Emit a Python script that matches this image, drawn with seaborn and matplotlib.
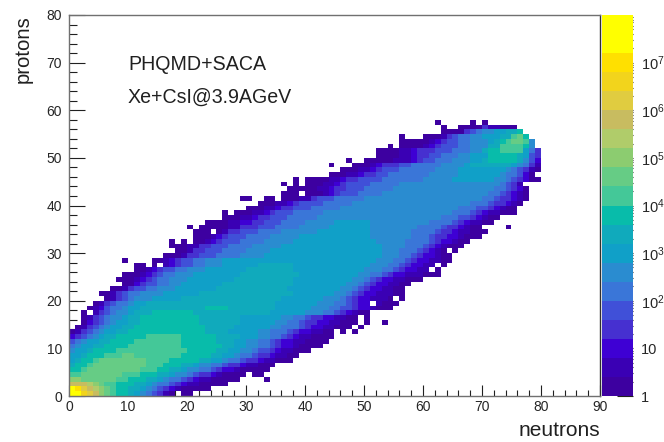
import numpy as np
import pandas as pd
import seaborn as sns
import matplotlib
matplotlib.use("Agg")
import matplotlib.pyplot as plt
from matplotlib.colors import ListedColormap, LogNorm
from matplotlib.ticker import FixedLocator, MultipleLocator, NullFormatter

# first neutron bin of each proton row (row 0 is the bottom one)
row_start = [0, 0, 0, 0, 0, 0, 0, 0, 0, 0,
             0, 0, 0, 0, 1, 2, 2, 2, 3, 4,
             6, 5, 7, 9, 8, 9, 11, 11, 9, 16,
             18, 17, 17, 21, 21, 20, 23, 26, 26, 30,
             32, 29, 36, 37, 36, 38, 44, 46, 44, 47,
             52, 52, 54, 56, 56, 63, 63, 62]

# colour band of each bin, one char per bin: 0-9 then a-j, '.' = empty bin
# spaces only split the runs so they can be read
row_bands = [
    "iigfecba99 87654310.00",
    "ihfedcba99 8876543210 0000",
    "eeedcbaa99 9887655432 1100000",
    "ccbbbbbbaa 9998876554 321100000 ....0",
    "aabbbbbbba aa99988766 5433210000 .00",
    "99abbbbbbb bbaaa99887 6655432210 0000",
    "899abbbbbb bbbaaa9998 8766554332 11000",
    "7899abbbbb bbbaaaa999 9988776554 33211000",
    "778999aaab baaaaaaaa9 9999887765 543321100",
    "67789999aa aaaaaaaaaa 9999988776 6544321100 0",
    "5677889999 aaaaaaaaa9 9999998877 6655432210 000",
    "4567788999 9aaaaaaaa9 9999988877 6655432211 0000",
    "2345678899 999aaaaaa9 9999988887 7766554321 10000",
    "0134567788 9999999999 9 9988887777 7665554322 1100 .0.0",
    "0134567788 9999999999 9 9888887777 7766555432 211000 .0",
    "0234567788 9999999999 8888888777 7776655433 2211000 .0 ..0",
    "0134566788 9999999999 8888888777 7777665543 3221100 .0",
    "0.13456678 8899999998 88888 88888 88 777777 666 55 4 3 2 1 00",
    "0124556778 8888888888 9999 88888888 777777 666 55 44 3 22 1 000",
    "0134556778 88888 88888 88888 88888 8 7777777 666 55 4 3 22 . 1 000",
    "01345666 77777 88888 88888 88888 88 7777777 666 5 4 3 22 111 0 . 0",
    "00134556666 777777 88888 88888 88888 8 7777777 66 5 4 3 22 111 00",
    "00134455666 7777777 88888 88888 88 777777777 66 5 4 3 22 11 00",
    "0023445566 7777777 88888 88888 88 777777777 66 5 4 3 22 11 00",
    "000123455666 77777777 88888 88888 7777777777 66 5 4 3 22 11 000",
    "000123455666 77777777 88888 88888 7777777777 66 55 4 3 22 111 000",
    "001234455666 7777777 88888888 77777 77777 77 666 55 4 3 22 11 .0",
    "00.0.12344 55666 777777 888888 77777 77777 777 666 55 4 3 22 11 .0",
    "0.... 001234455666 77777 77777 77777 77777 77777 7 666 55 4 3 22 11 00",
    "0001 33 444 5555 6666 77777 77777 77777 77777 666 55 4 3 22 1 00",
    "001 33 444 5555 6666 77777 77777 77777 7777 666 555 4 3 2 1 0.0",
    "00011 33 444 5555 66666 77777 77777 77777 77 6666 555 4 3 2 1 000",
    "0.0.001 2 3 444 5555 66666 77777 77777 7777 66666 5555 4 3 22 1 00",
    "00012 3 444 5555 66666 77777 77777 77 6666666 555 4 33 22 1 000",
    "000.0 133 444 5555 666666 777777777 6666666 5555 4 33 2 11 000",
    "0. 0000011 333 444 5555 66666 7777777 66666666 5555 4 33 2 1 00 ....0",
    "00001122 33 444 5555 66666 777777 66666 66666 5555 4 3 2 11 00",
    "000112 33 444 55555 66666 66666 66666 66666 6 555 44 3 2 1 00",
    "0. 000112 3 444 55555 66666 66666 66666 66666 66 555 4 3 2 11 000",
    "000112 33 444 55555 66666 66666 66666 66666 555 44 3 2 1 00",
    "000112 3 4444 55555 66666 66666 66666 66666 555 4 33 2 1 0",
    "00..00. 00011 3 444 55555 66666 66666 66666 66666 55 4 33 2 1 0",
    "000. 00012 3 444 5555 66666 66666 66666 666 55 4 3 2 1 0",
    "00000112 33 444 55555 66666 66666 66666 66 55 4 3 2 0",
    "0.0. 000112 3 4444 55555 66666 66666 66666 66 5 4 3 1",
    "0. 0000112 33 4444 55555 55 66666 7777777 66 5 4 3 2 00",
    "000112 33 44 5555555 66666 7777777 6 55 4 2 0",
    "0001123 444 555555 6666 77777777 6 5 4 3 1 0",
    "0... 00012 333 44 55555 6666 7 8888888 7 6 5 3 1",
    "0.. 00 0001112 3 44 555 666 77 8 99999 8 6 4 2",
    "0000112 33 44 555 66 777 99999 8 7 4 3",
    "0000112 333 444 555 66 8 99 aaaa 7 5 3",
    "0.000012 3 444 55 666 88 aaaa 9 6",
    "0000012 3 44 55 666 7 8 9 a bb a 6",
    "0...000 1 3 4 55 66 777 88 a b 9",
    "0000 3 4 5 66 77 88 9",
    "0..0000 3 11000",
    "0.....0.0",
]

band_colors = ["#3d00a0", "#3a00b4", "#3e00d4", "#4630d0", "#4050d8",
               "#3a76d8", "#2a8cd0", "#10a0c8", "#10aabc", "#08bcaa",
               "#44c898", "#66cc85", "#8ccc70", "#b0cc6a", "#c8bc60",
               "#e0cc40", "#f2d41c", "#ffe000", "#ffff00", "#ffff00"]

x_ticks = [0, 10, 20, 30, 40, 50, 60, 70, 80, 90]
y_ticks = [0, 10, 20, 30, 40, 50, 60, 70, 80]
bar_ticks = [1, 1e1, 1e2, 1e3, 1e4, 1e5, 1e6, 1e7]
bar_labels = ["1", "10", "$10^{2}$", "$10^{3}$", "$10^{4}$", "$10^{5}$", "$10^{6}$", "$10^{7}$"]
notes = ["PHQMD+SACA", "Xe+CsI@3.9AGeV"]

sns.set_theme(style="ticks")
plt.rcParams["font.family"] = ["Liberation Sans", "DejaVu Sans"]
plt.rcParams["mathtext.default"] = "regular"

# bands are 0.4 decades wide, take the middle of the band as bin content
digits = "0123456789abcdefghij"
counts = np.full((80, 90), np.nan)
for p, (start, bands) in enumerate(zip(row_start, row_bands)):
    for i, c in enumerate(bands.replace(" ", "")):
        if c != ".":
            counts[p, start + i] = 10 ** (0.4 * (digits.index(c) + 0.5))
hist = pd.DataFrame(counts)

W, H = 664, 442
fig = plt.figure(figsize=(W / 100, H / 100), dpi=100)
ax = fig.add_axes([69 / W, 1 - 396 / H, 531 / W, 381 / H])
cax = fig.add_axes([602 / W, 1 - 396 / H, 31 / W, 381 / H])

sns.heatmap(hist, ax=ax, cbar_ax=cax, cmap=ListedColormap(band_colors),
            norm=LogNorm(vmin=1, vmax=1e8), xticklabels=False, yticklabels=False)
ax.set_xlim(0, 90)
ax.set_ylim(0, 80)
for s in ax.spines.values():
    s.set_visible(True)
    s.set_color("#707070")
    s.set_linewidth(1)
ax.spines["right"].set_color("#303030")

ax.set_xticks(x_ticks, labels=[str(v) for v in x_ticks])
ax.set_yticks(y_ticks, labels=[str(v) for v in y_ticks])
ax.xaxis.set_minor_locator(MultipleLocator(2))
ax.yaxis.set_minor_locator(MultipleLocator(2))
ax.tick_params(axis="x", which="major", direction="in", length=8, width=0.8, color="#202020", labelsize=10, pad=3, labelrotation=0)
ax.tick_params(axis="x", which="minor", direction="in", length=4, width=0.8, color="#202020")
ax.tick_params(axis="y", which="major", direction="in", length=11.5, width=0.8, color="#202020", labelsize=10, pad=5, labelrotation=0)
ax.tick_params(axis="y", which="minor", direction="in", length=6, width=0.8, color="#202020")

ax.set_xlabel("neutrons", fontsize=15, ha="right", x=1.0, labelpad=5, color="#202020")
ax.set_ylabel("protons", fontsize=14.6, ha="right", y=1.0, labelpad=10, color="#202020")

ax.text(10, 69.6, notes[0], fontsize=14.1, va="center", color="#202020")
ax.text(10, 62.8, notes[1], fontsize=14.1, va="center", color="#202020")

cbar = ax.collections[0].colorbar
cbar.outline.set_visible(False)
cbar.set_ticks(bar_ticks, labels=bar_labels)
cax.yaxis.set_minor_locator(FixedLocator([m * 10 ** e for e in range(8) for m in range(2, 10)]))
cax.yaxis.set_minor_formatter(NullFormatter())
cax.tick_params(axis="y", which="major", direction="in", length=11.5, width=0.8, color="#202020", labelsize=10.5, pad=6, right=True, left=False)
cax.tick_params(axis="y", which="minor", direction="in", length=6, width=0.8, color="#202020", right=True, left=False)

fig.savefig("out.png", dpi=100)
